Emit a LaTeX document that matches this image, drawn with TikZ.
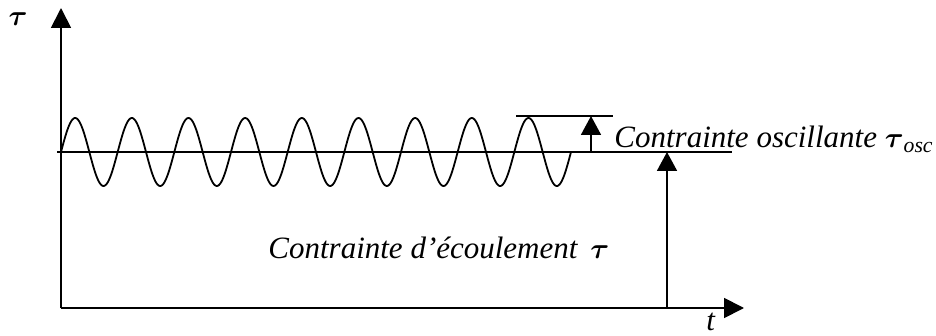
\documentclass[tikz,border=0pt]{standalone}
\usepackage{amsmath}
\usepackage{fontspec}
\setmainfont{Liberation Serif}
\usetikzlibrary{arrows.meta}
\newcommand{\tauglyph}{$\boldsymbol{\tau}$}

\begin{document}
\begin{tikzpicture}[x=0.5pt, y=-0.5pt,
  font=\fontsize{15.5}{18}\selectfont\itshape,
  line/.style={line width=0.9pt, black},
  axis/.style={line, -{Triangle[length=10pt, width=10pt]}},
  level/.style={line, -{Triangle[length=9.5pt, width=10pt]}},
  lab/.style={inner sep=0pt, anchor=base west}]
\useasboundingbox (0,0) rectangle (936,336);
% axes
\coordinate (O) at (61,308);
\coordinate (ytip) at (61,8);
\coordinate (xtip) at (744,308);
\draw[axis] (O) -- (ytip);
\draw[axis] (O) -- (xtip);
\node (taulab) at (18,19) {\tauglyph};
\node[lab] (tlab) at (706,330) {t};
% mean stress and oscillation (9 periods)
\coordinate (meanL) at (57,152);
\coordinate (meanR) at (732,152);
\draw[line] (meanL) -- (meanR);
\draw[line] plot[domain=0:3240, samples=450, smooth] ({61+\x/6.35294}, {152-34*sin(\x)});
\coordinate (ampL) at (516,116);
\coordinate (ampR) at (613,116);
\draw[line] (ampL) -- (ampR);
% arrows
\coordinate (oscbot) at (591,152);
\coordinate (osctop) at (591,116);
\draw[level] (oscbot) -- (osctop);
\coordinate (flowbot) at (667,308);
\coordinate (flowtop) at (667,152);
\draw[level] (flowbot) -- (flowtop);
% labels
\node[lab] (osclab) at (614,148) {Contrainte oscillante \tauglyph\textsubscript{osc}};
\node[lab] (flowlab) at (268,258) {Contrainte d’écoulement \,\tauglyph};
\end{tikzpicture}
\end{document}
